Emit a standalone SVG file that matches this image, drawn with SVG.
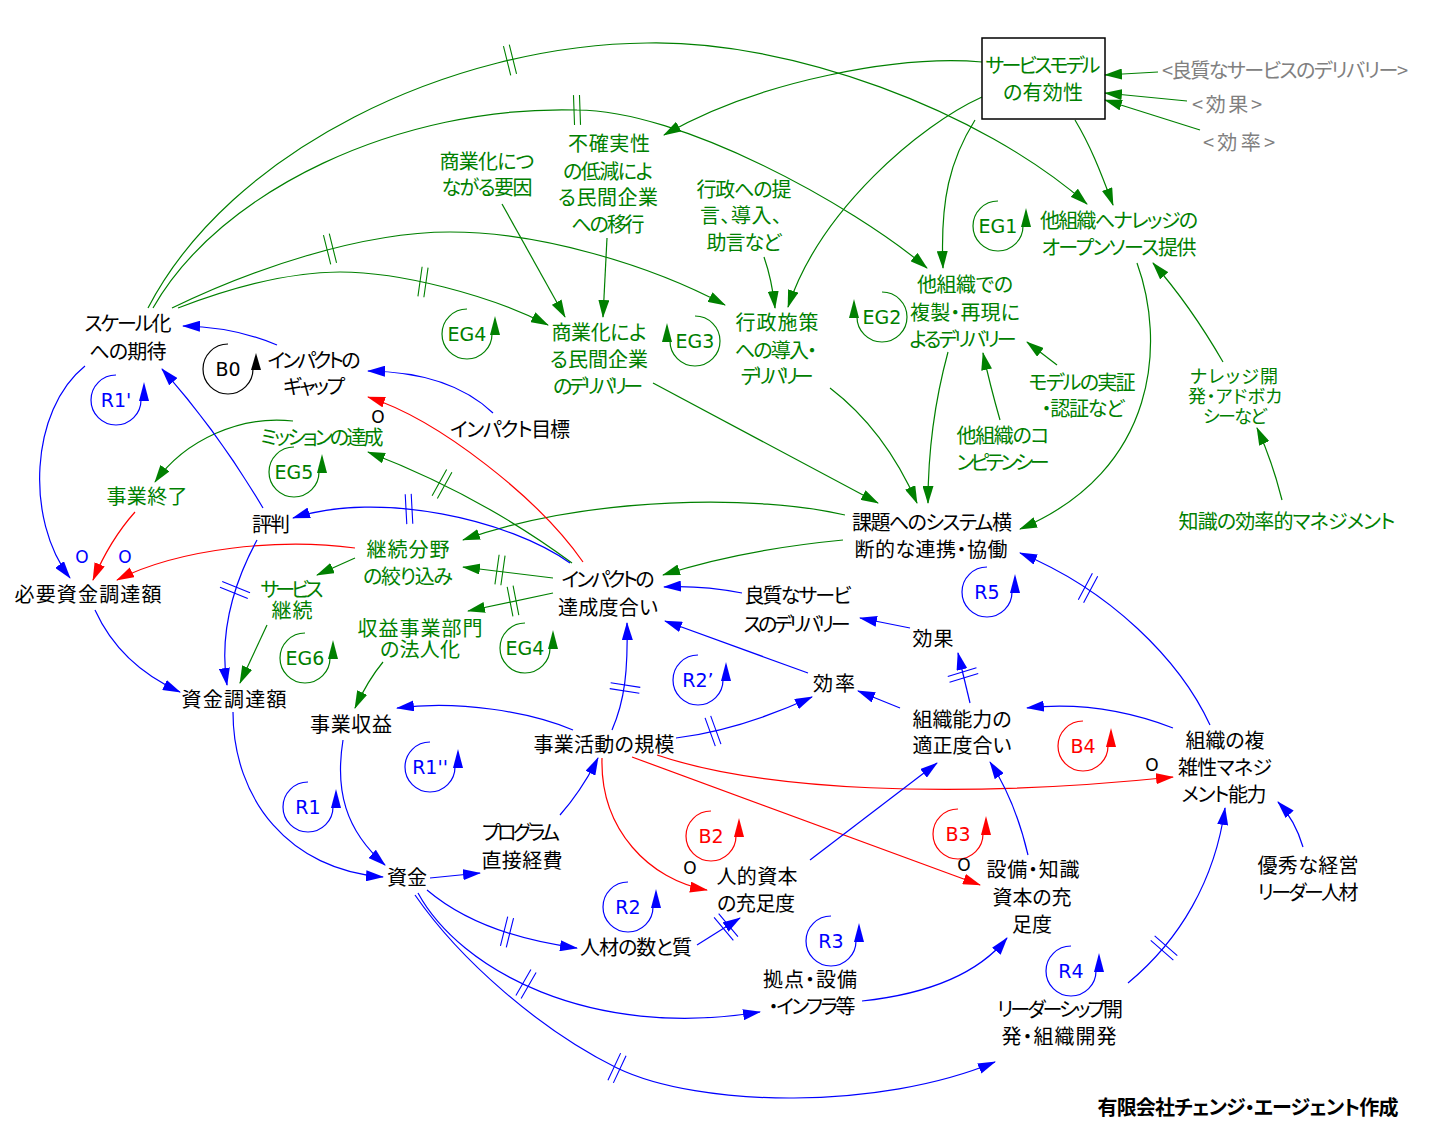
<svg xmlns="http://www.w3.org/2000/svg" width="1437" height="1134" viewBox="0 0 1437 1134">
<style>
text{font-family:"Noto Sans CJK JP","Noto Sans CJK SC",sans-serif;font-size:20px;text-anchor:middle;font-feature-settings:"palt"}
.k text,text.k{fill:#000}
.g text,text.g{fill:#008000}
.gy text{fill:#808080}
.cg{fill:none;stroke:#008000;stroke-width:1.2;marker-end:url(#mg)}
.cb{fill:none;stroke:#0000ff;stroke-width:1.2;marker-end:url(#mb)}
.cr{fill:none;stroke:#ff0000;stroke-width:1.2;marker-end:url(#mr)}
.tg{fill:none;stroke:#008000;stroke-width:1.1}
.tb{fill:none;stroke:#0000ff;stroke-width:1.1}
.loop path.a{fill:none;stroke:currentColor;stroke-width:1.2}
.loop path.h{fill:currentColor;stroke:none}
.loop text{fill:currentColor;font-family:"DejaVu Sans",sans-serif;font-size:19px}
.lg{color:#008000}.lb{color:#0000ff}.lr{color:#ff0000}.lk{color:#000}
.o{font-family:"DejaVu Sans",sans-serif;font-size:17px}
.sm text{font-size:18px}
</style>
<defs>
<marker id="mg" viewBox="0 0 18 11" refX="17" refY="5.5" markerWidth="18" markerHeight="11" markerUnits="userSpaceOnUse" orient="auto"><path d="M0,0 L18,5.5 L0,11 Z" fill="#008000"/></marker>
<marker id="mb" viewBox="0 0 18 11" refX="17" refY="5.5" markerWidth="18" markerHeight="11" markerUnits="userSpaceOnUse" orient="auto"><path d="M0,0 L18,5.5 L0,11 Z" fill="#0000ff"/></marker>
<marker id="mr" viewBox="0 0 18 11" refX="17" refY="5.5" markerWidth="18" markerHeight="11" markerUnits="userSpaceOnUse" orient="auto"><path d="M0,0 L18,5.5 L0,11 Z" fill="#ff0000"/></marker>
</defs>
<rect x="0" y="0" width="1437" height="1134" fill="#fff"/>

<g id="connectors">
<!-- green -->
<path class="cg" d="M148,308 C230,150 450,45 647,43 C790,40 980,110 1087,204"/>
<path class="cg" d="M153,308 C220,190 400,105 577,110 C680,110 851,204 927,268"/>
<path class="cg" d="M172,308 C250,270 360,232 450,232 C540,232 650,265 725,305"/>
<path class="cg" d="M178,308 C230,288 290,272 340,272 C400,272 490,295 548,325"/>
<path class="cg" d="M982,62 C900,55 760,80 664,135"/>
<path class="cg" d="M982,97 C920,125 820,210 788,307"/>
<path class="cg" d="M975,120 C950,160 940,200 943,268"/>
<path class="cg" d="M1075,120 C1090,145 1100,170 1113,205"/>
<path class="cg" d="M1158,72 L1105,75"/>
<path class="cg" d="M1187,101 L1105,93"/>
<path class="cg" d="M1200,130 L1105,100"/>
<path class="cg" d="M502,204 L565,317"/>
<path class="cg" d="M607,238 L603,317"/>
<path class="cg" d="M764,257 Q772,280 775,308"/>
<path class="cg" d="M948,352 C935,400 928,450 928,503"/>
<path class="cg" d="M1000,420 Q990,385 983,353"/>
<path class="cg" d="M1057,365 L1027,342"/>
<path class="cg" d="M1137,263 C1165,340 1160,470 1020,529"/>
<path class="cg" d="M1223,362 Q1190,305 1153,263"/>
<path class="cg" d="M1282,500 Q1272,460 1257,428"/>
<path class="cg" d="M653,383 L878,503"/>
<path class="cg" d="M830,388 Q885,430 917,503"/>
<path class="cg" d="M843,540 Q740,550 663,575"/>
<path class="cg" d="M845,515 C760,495 590,495 463,540"/>
<path class="cg" d="M553,578 L463,567"/>
<path class="cg" d="M553,593 L468,611"/>
<path class="cg" d="M572,563 Q480,495 368,452"/>
<path class="cg" d="M293,421 C240,415 185,440 155,482"/>
<path class="cg" d="M355,558 L317,575"/>
<path class="cg" d="M267,625 L240,683"/>
<path class="cg" d="M383,662 Q368,680 355,708"/>
<!-- red -->
<path class="cr" d="M135,512 Q110,540 93,580"/>
<path class="cr" d="M355,548 C280,538 180,548 117,580"/>
<path class="cr" d="M583,562 C540,500 440,420 368,397"/>
<path class="cr" d="M602,758 C600,830 650,880 707,890"/>
<path class="cr" d="M632,757 L980,885"/>
<path class="cr" d="M657,755 C760,790 950,800 1173,777"/>
<!-- blue -->
<path class="cb" d="M277,345 Q235,327 183,326"/>
<path class="cb" d="M493,413 Q450,372 368,371"/>
<path class="cb" d="M263,508 Q218,432 162,369"/>
<path class="cb" d="M85,366 C30,410 25,520 70,578"/>
<path class="cb" d="M95,610 Q120,665 180,692"/>
<path class="cb" d="M257,540 C230,590 220,640 227,685"/>
<path class="cb" d="M570,563 C510,520 380,490 293,518"/>
<path class="cb" d="M233,712 C233,800 290,870 383,877"/>
<path class="cb" d="M343,740 C335,790 345,830 385,865"/>
<path class="cb" d="M573,730 C530,712 460,700 397,708"/>
<path class="cb" d="M612,730 C625,700 628,670 627,623"/>
<path class="cb" d="M676,738 Q740,730 812,697"/>
<path class="cb" d="M900,708 L858,691"/>
<path class="cb" d="M808,673 L665,621"/>
<path class="cb" d="M970,703 L958,653"/>
<path class="cb" d="M910,628 L860,618"/>
<path class="cb" d="M742,593 Q700,585 664,587"/>
<path class="cb" d="M1210,725 C1180,660 1110,590 1020,553"/>
<path class="cb" d="M1173,728 Q1100,700 1027,708"/>
<path class="cb" d="M1303,847 Q1295,820 1278,802"/>
<path class="cb" d="M1128,983 C1180,940 1215,880 1225,808"/>
<path class="cb" d="M1028,855 Q1015,800 990,762"/>
<path class="cb" d="M810,860 L937,763"/>
<path class="cb" d="M862,1001 Q965,990 1007,938"/>
<path class="cb" d="M697,945 L740,918"/>
<path class="cb" d="M560,815 Q582,790 598,758"/>
<path class="cb" d="M430,878 L480,873"/>
<path class="cb" d="M427,890 Q480,935 577,948"/>
<path class="cb" d="M418,893 C460,970 590,1040 760,1012"/>
<path class="cb" d="M415,895 C460,960 540,1030 617,1068 C700,1108 880,1110 995,1062"/>
<!-- delay marks -->
<path class="tg" transform="translate(510,60) rotate(-14)" d="M-3,-15 L-3,15 M3,-15 L3,15"/>
<path class="tg" transform="translate(577,110) rotate(-2)" d="M-3,-15 L-3,15 M3,-15 L3,15"/>
<path class="tg" transform="translate(330,249) rotate(-14)" d="M-3,-15 L-3,15 M3,-15 L3,15"/>
<path class="tg" transform="translate(423,282) rotate(8)" d="M-3,-15 L-3,15 M3,-15 L3,15"/>
<path class="tg" transform="translate(442,484) rotate(29)" d="M-3,-15 L-3,15 M3,-15 L3,15"/>
<path class="tb" transform="translate(409,509) rotate(-3)" d="M-3,-15 L-3,15 M3,-15 L3,15"/>
<path class="tg" transform="translate(500,570) rotate(8)" d="M-3,-15 L-3,15 M3,-15 L3,15"/>
<path class="tg" transform="translate(513,601) rotate(-11)" d="M-3,-15 L-3,15 M3,-15 L3,15"/>
<path class="tb" transform="translate(235,590) rotate(112)" d="M-3,-15 L-3,15 M3,-15 L3,15"/>
<path class="tb" transform="translate(625,688) rotate(-81)" d="M-3,-15 L-3,15 M3,-15 L3,15"/>
<path class="tb" transform="translate(713,731) rotate(-20)" d="M-3,-15 L-3,15 M3,-15 L3,15"/>
<path class="tb" transform="translate(963,675) rotate(-107)" d="M-3,-15 L-3,15 M3,-15 L3,15"/>
<path class="tb" transform="translate(1088,588) rotate(28)" d="M-3,-15 L-3,15 M3,-15 L3,15"/>
<path class="tb" transform="translate(1164,948) rotate(-49)" d="M-3,-15 L-3,15 M3,-15 L3,15"/>
<path class="tb" transform="translate(726,927) rotate(-40)" d="M-3,-15 L-3,15 M3,-15 L3,15"/>
<path class="tb" transform="translate(507,932) rotate(14)" d="M-3,-15 L-3,15 M3,-15 L3,15"/>
<path class="tb" transform="translate(526,984) rotate(30)" d="M-3,-15 L-3,15 M3,-15 L3,15"/>
<path class="tb" transform="translate(617,1068) rotate(25)" d="M-3,-15 L-3,15 M3,-15 L3,15"/>
</g>

<!-- loop markers -->
<g id="loop-B0" class="loop lk" transform="translate(228,369)"><path class="a" d="M0,-25 A25,25 0 1 0 25,0"/><path class="h" d="M28,-16 L23,1 L33,1 Z"/><text y="7">B0</text></g>
<g id="loop-R1p" class="loop lb" transform="translate(116,400)"><path class="a" d="M0,-25 A25,25 0 1 0 25,0"/><path class="h" d="M28,-18 L23,1 L33,1 Z"/><text y="7">R1'</text></g>
<g id="loop-EG5" class="loop lg" transform="translate(294,472)"><path class="a" d="M0,-25 A25,25 0 1 0 25,0"/><path class="h" d="M28,-18 L23,1 L33,1 Z"/><text y="7">EG5</text></g>
<g id="loop-EG4a" class="loop lg" transform="translate(467,334)"><path class="a" d="M0,-25 A25,25 0 1 0 25,0"/><path class="h" d="M28,-18 L23,1 L33,1 Z"/><text y="7">EG4</text></g>
<g id="loop-EG3" class="loop lg" transform="translate(695,341)"><path class="a" d="M0,-25 A25,25 0 1 1 -25,0"/><path class="h" d="M-28,-18 L-33,1 L-23,1 Z"/><text y="7">EG3</text></g>
<g id="loop-EG2" class="loop lg" transform="translate(882,317)"><path class="a" d="M0,-25 A25,25 0 1 1 -25,0"/><path class="h" d="M-28,-18 L-33,1 L-23,1 Z"/><text y="7">EG2</text></g>
<g id="loop-EG1" class="loop lg" transform="translate(998,226)"><path class="a" d="M0,-25 A25,25 0 1 0 25,0"/><path class="h" d="M28,-18 L23,1 L33,1 Z"/><text y="7">EG1</text></g>
<g id="loop-EG6" class="loop lg" transform="translate(305,658)"><path class="a" d="M0,-25 A25,25 0 1 0 25,0"/><path class="h" d="M28,-18 L23,1 L33,1 Z"/><text y="7">EG6</text></g>
<g id="loop-EG4b" class="loop lg" transform="translate(525,648)"><path class="a" d="M0,-25 A25,25 0 1 0 25,0"/><path class="h" d="M28,-18 L23,1 L33,1 Z"/><text y="7">EG4</text></g>
<g id="loop-R5" class="loop lb" transform="translate(987,592)"><path class="a" d="M0,-25 A25,25 0 1 0 25,0"/><path class="h" d="M28,-18 L23,1 L33,1 Z"/><text y="7">R5</text></g>
<g id="loop-R2p" class="loop lb" transform="translate(698,680)"><path class="a" d="M0,-25 A25,25 0 1 0 25,0"/><path class="h" d="M28,-18 L23,1 L33,1 Z"/><text y="7">R2’</text></g>
<g id="loop-R1pp" class="loop lb" transform="translate(430,767)"><path class="a" d="M0,-25 A25,25 0 1 0 25,0"/><path class="h" d="M28,-18 L23,1 L33,1 Z"/><text y="7">R1''</text></g>
<g id="loop-R1" class="loop lb" transform="translate(308,807)"><path class="a" d="M0,-25 A25,25 0 1 0 25,0"/><path class="h" d="M28,-18 L23,1 L33,1 Z"/><text y="7">R1</text></g>
<g id="loop-B4" class="loop lr" transform="translate(1083,746)"><path class="a" d="M0,-25 A25,25 0 1 0 25,0"/><path class="h" d="M28,-18 L23,1 L33,1 Z"/><text y="7">B4</text></g>
<g id="loop-B2" class="loop lr" transform="translate(711,836)"><path class="a" d="M0,-25 A25,25 0 1 0 25,0"/><path class="h" d="M28,-18 L23,1 L33,1 Z"/><text y="7">B2</text></g>
<g id="loop-B3" class="loop lr" transform="translate(958,834)"><path class="a" d="M0,-25 A25,25 0 1 0 25,0"/><path class="h" d="M28,-18 L23,1 L33,1 Z"/><text y="7">B3</text></g>
<g id="loop-R2" class="loop lb" transform="translate(628,907)"><path class="a" d="M0,-25 A25,25 0 1 0 25,0"/><path class="h" d="M28,-18 L23,1 L33,1 Z"/><text y="7">R2</text></g>
<g id="loop-R3" class="loop lb" transform="translate(831,941)"><path class="a" d="M0,-25 A25,25 0 1 0 25,0"/><path class="h" d="M28,-18 L23,1 L33,1 Z"/><text y="7">R3</text></g>
<g id="loop-R4" class="loop lb" transform="translate(1071,971)"><path class="a" d="M0,-25 A25,25 0 1 0 25,0"/><path class="h" d="M28,-18 L23,1 L33,1 Z"/><text y="7">R4</text></g>

<!-- polarity marks -->
<g id="polarity">
<text class="o" x="82" y="563" fill="#0000ff">O</text>
<text class="o" x="125" y="563" fill="#0000ff">O</text>
<text class="o" x="378" y="423" fill="#000">O</text>
<text class="o" x="690" y="874" fill="#000">O</text>
<text class="o" x="964" y="871" fill="#000">O</text>
<text class="o" x="1152" y="771" fill="#000">O</text>
</g>

<!-- black nodes -->
<g id="n-scale" class="k"><text x="128" y="331" textLength="87">スケール化</text><text x="128" y="359" textLength="77">への期待</text></g>
<g id="n-gap" class="k"><text x="314" y="368" textLength="93">インパクトの</text><text x="314" y="394" textLength="62">ギャップ</text></g>
<g id="n-target" class="k"><text x="510" y="437" textLength="120">インパクト目標</text></g>
<g id="n-repute" class="k"><text x="271" y="532" textLength="38">評判</text></g>
<g id="n-reqfund" class="k"><text x="88" y="602" textLength="147">必要資金調達額</text></g>
<g id="n-fundraise" class="k"><text x="234" y="707" textLength="105">資金調達額</text></g>
<g id="n-bizrev" class="k"><text x="351" y="732" textLength="82">事業収益</text></g>
<g id="n-activity" class="k"><text x="604" y="752" textLength="141">事業活動の規模</text></g>
<g id="n-fund" class="k"><text x="407" y="885" textLength="40">資金</text></g>
<g id="n-program" class="k"><text x="521" y="840" textLength="78">プログラム</text><text x="522" y="868" textLength="81">直接経費</text></g>
<g id="n-human" class="k"><text x="757" y="884" textLength="81">人的資本</text><text x="756" y="911" textLength="78">の充足度</text></g>
<g id="n-talent" class="k"><text x="636" y="955" textLength="112">人材の数と質</text></g>
<g id="n-base" class="k"><text x="810" y="987" textLength="94">拠点・設備</text><text x="812" y="1014" textLength="87">・インフラ等</text></g>
<g id="n-equip" class="k"><text x="1033" y="877" textLength="93">設備・知識</text><text x="1032" y="905" textLength="79">資本の充</text><text x="1032" y="932" textLength="40">足度</text></g>
<g id="n-leader" class="k"><text x="1060" y="1017" textLength="126">リーダーシップ開</text><text x="1059" y="1044" textLength="115">発・組織開発</text></g>
<g id="n-complex" class="k"><text x="1225" y="748" textLength="79">組織の複</text><text x="1225" y="775" textLength="94">雑性マネジ</text><text x="1224" y="802" textLength="85">メント能力</text></g>
<g id="n-exec" class="k"><text x="1308" y="873" textLength="101">優秀な経営</text><text x="1308" y="900" textLength="101">リーダー人材</text></g>
<g id="n-orgcap" class="k"><text x="962" y="727" textLength="99">組織能力の</text><text x="962" y="753" textLength="99">適正度合い</text></g>
<g id="n-eff" class="k"><text x="834" y="691" textLength="42">効率</text></g>
<g id="n-effect" class="k"><text x="933" y="646" textLength="41">効果</text></g>
<g id="n-quality" class="k"><text x="798" y="603" textLength="107">良質なサービ</text><text x="797" y="632" textLength="107">スのデリバリー</text></g>
<g id="n-impact" class="k"><text x="608" y="587" textLength="93">インパクトの</text><text x="608" y="615" textLength="100">達成度合い</text></g>
<g id="n-system" class="k"><text x="932" y="530" textLength="160">課題へのシステム横</text><text x="931" y="557" textLength="153">断的な連携・協働</text></g>

<!-- green nodes -->
<g id="n-model" class="g"><rect x="982" y="38" width="123" height="81" fill="none" stroke="#000" stroke-width="1.5"/><text x="1043" y="73" textLength="115">サービスモデル</text><text x="1043" y="100" textLength="80">の有効性</text></g>
<g id="n-commfac" class="g"><text x="487" y="169" textLength="95">商業化につ</text><text x="487" y="195" textLength="91">ながる要因</text></g>
<g id="n-uncert" class="g"><text x="609" y="151" textLength="82">不確実性</text><text x="608" y="179" textLength="90">の低減によ</text><text x="608" y="205" textLength="100">る民間企業</text><text x="608" y="232" textLength="73">への移行</text></g>
<g id="n-govprop" class="g"><text x="744" y="197" textLength="95">行政への提</text><text x="741" y="223" textLength="82">言、導入、</text><text x="744" y="250" textLength="75">助言など</text></g>
<g id="n-commdel" class="g"><text x="599" y="340" textLength="95">商業化によ</text><text x="599" y="367" textLength="98">る民間企業</text><text x="598" y="394" textLength="90">のデリバリー</text></g>
<g id="n-govdel" class="g"><text x="777" y="330" textLength="83">行政施策</text><text x="776" y="358" textLength="82">への導入・</text><text x="777" y="384" textLength="73">デリバリー</text></g>
<g id="n-replic" class="g"><text x="965" y="292" textLength="96">他組織での</text><text x="965" y="320" textLength="110">複製・再現に</text><text x="963" y="347" textLength="107">よるデリバリー</text></g>
<g id="n-opensrc" class="g"><text x="1119" y="228" textLength="158">他組織へナレッジの</text><text x="1119" y="255" textLength="155">オープンソース提供</text></g>
<g id="n-verify" class="g"><text x="1082" y="390" textLength="107">モデルの実証</text><text x="1083" y="416" textLength="83">・認証など</text></g>
<g id="n-compet" class="g"><text x="1003" y="443" textLength="93">他組織のコ</text><text x="1003" y="470" textLength="93">ンピテンシー</text></g>
<g id="n-knowdev" class="g sm"><text x="1234" y="383" textLength="88">ナレッジ開</text><text x="1235" y="403" textLength="94">発・アドボカ</text><text x="1235" y="423" textLength="64">シーなど</text></g>
<g id="n-knowmgmt" class="g"><text x="1287" y="529" textLength="217">知識の効率的マネジメント</text></g>
<g id="n-mission" class="g"><text x="322" y="445" textLength="123">ミッションの達成</text></g>
<g id="n-end" class="g"><text x="147" y="504" textLength="81">事業終了</text></g>
<g id="n-focus" class="g"><text x="408" y="557" textLength="83">継続分野</text><text x="408" y="584" textLength="90">の絞り込み</text></g>
<g id="n-svccont" class="g"><text x="292" y="597" textLength="63">サービス</text><text x="292" y="618" textLength="41">継続</text></g>
<g id="n-incorp" class="g"><text x="420" y="636" textLength="125">収益事業部門</text><text x="420" y="657" textLength="80">の法人化</text></g>

<!-- shadow variables -->
<g id="n-sh-quality" class="gy"><text x="1285" y="78" textLength="246">&lt;良質なサービスのデリバリー&gt;</text></g>
<g id="n-sh-effect" class="gy"><text x="1227" y="112" textLength="70">&lt;効果&gt;</text></g>
<g id="n-sh-eff" class="gy"><text x="1239" y="150" textLength="72">&lt;効率&gt;</text></g>

<g id="credit"><text x="1248" y="1115" fill="#000" font-weight="bold" textLength="301">有限会社チェンジ・エージェント作成</text></g>
</svg>
